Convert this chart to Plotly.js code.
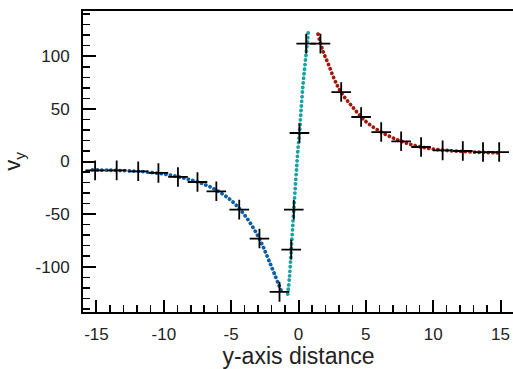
<!DOCTYPE html>
<html>
<head>
<meta charset="utf-8">
<script src="https://cdn.plot.ly/plotly-3.0.1.min.js"></script>
<style>
html, body { margin: 0; padding: 0; overflow: hidden; background: #fff; }
#chart { width: 520px; height: 369px; }
.dotline .js-line { stroke-linecap: round; }
</style>
</head>
<body>
<div id="chart"></div>
<script>
// Fitted curves (dotted lines)
const blueX = [-15.3, -14, -12.5, -11, -9.5, -8, -6.5, -5, -4, -3, -2.2, -1.25];
const blueY = [-8, -8.3, -9, -10.3, -13, -17.5, -24.5, -37, -51, -71, -94, -124];
const tealX = [-0.8, -0.67, -0.54, -0.35, -0.05, 0.07, 0.32, 0.57, 0.75];
const tealY = [-126, -110, -84, -46, 10, 27, 71, 103, 126];
const redX = [1.45, 1.8, 2.2, 2.7, 3.2, 4, 5, 6, 7, 8, 9, 10, 11, 12, 13, 14, 15.1];
const redY = [121, 105.5, 93, 77, 65, 52, 38, 29, 22.5, 17.5, 14, 11.8, 10.5, 9.6, 9, 8.5, 8.2];
// Measured points (crosses)
const crossX = [-15.1, -13.5, -11.9, -10.4, -8.95, -7.5, -6.1, -4.4, -2.9, -1.41,
                -0.54, -0.35, 0.07, 0.57, 1.63, 3.17, 4.65, 6.14, 7.62, 9.1, 10.7, 12.2, 13.7, 14.9];
const crossY = [-8.4, -8.4, -9.3, -10.9, -14.7, -19.5, -28.3, -45.7, -73.2, -123.9,
                -83.7, -45.7, 27.1, 112, 112, 66, 42.3, 28, 19.2, 13.8, 10.6, 10, 9, 9];
const xTicks = [-15, -10, -5, 0, 5, 10, 15];
const yTicks = [-100, -50, 0, 50, 100];

const dotDash = "0.1px,4.5px";
function curve(x, y, color) {
  return { x: x, y: y, type: 'scatter', mode: 'lines',
    line: { color: color, width: 3.8, dash: dotDash, shape: 'spline' },
    hoverinfo: 'skip', showlegend: false };
}
const traces = [
  curve(blueX, blueY, '#0f5ea5'),
  curve(tealX, tealY, '#16a3a3'),
  curve(redX, redY, '#a3180c'),
  { x: crossX, y: crossY, type: 'scatter', mode: 'markers', showlegend: false,
    marker: { symbol: 'cross-thin', size: 14, color: '#000', line: { color: '#000', width: 1.8 } } }
];
const fontFam = '"Liberation Sans", Arial, Helvetica, sans-serif';
const axisCommon = {
  showgrid: false, zeroline: false, showline: true, linewidth: 2, linecolor: '#000',
  mirror: true, ticks: 'inside', tickwidth: 2, tickcolor: '#000',
  tickfont: { family: fontFam, size: 17, color: '#222' }
};
const layout = {
  width: 520, height: 369,
  margin: { l: 83, r: 6, t: 11, b: 57 },
  paper_bgcolor: '#fff', plot_bgcolor: '#fff',
  font: { family: fontFam, color: '#222' },
  xaxis: Object.assign({}, axisCommon, {
    range: [-16, 16], tickmode: 'array', tickvals: xTicks, ticktext: xTicks.map(String),
    ticklen: 12, ticklabelstandoff: 6,
    minor: { dtick: 1, tick0: 0, ticks: 'inside', ticklen: 7, tickwidth: 1.5, tickcolor: '#000' },
    title: { text: 'y-axis distance', font: { family: fontFam, size: 23, color: '#222' }, standoff: 4 }
  }),
  yaxis: Object.assign({}, axisCommon, {
    range: [-143, 143], tickmode: 'array', tickvals: yTicks, ticktext: yTicks.map(String),
    ticklen: 13, ticklabelstandoff: 8,
    minor: { dtick: 10, tick0: 0, ticks: 'inside', ticklen: 7, tickwidth: 1.5, tickcolor: '#000' },
    title: { text: 'v<sub>y</sub>', font: { family: fontFam, size: 22, color: '#222' }, standoff: 12 }
  })
};
Plotly.newPlot('chart', traces, layout, { staticPlot: true, displayModeBar: false }).then(function () {
  document.querySelectorAll('#chart .scatterlayer .trace').forEach(function (t, i) {
    if (i < 3) t.classList.add('dotline');
  });
});
</script>
</body>
</html>
